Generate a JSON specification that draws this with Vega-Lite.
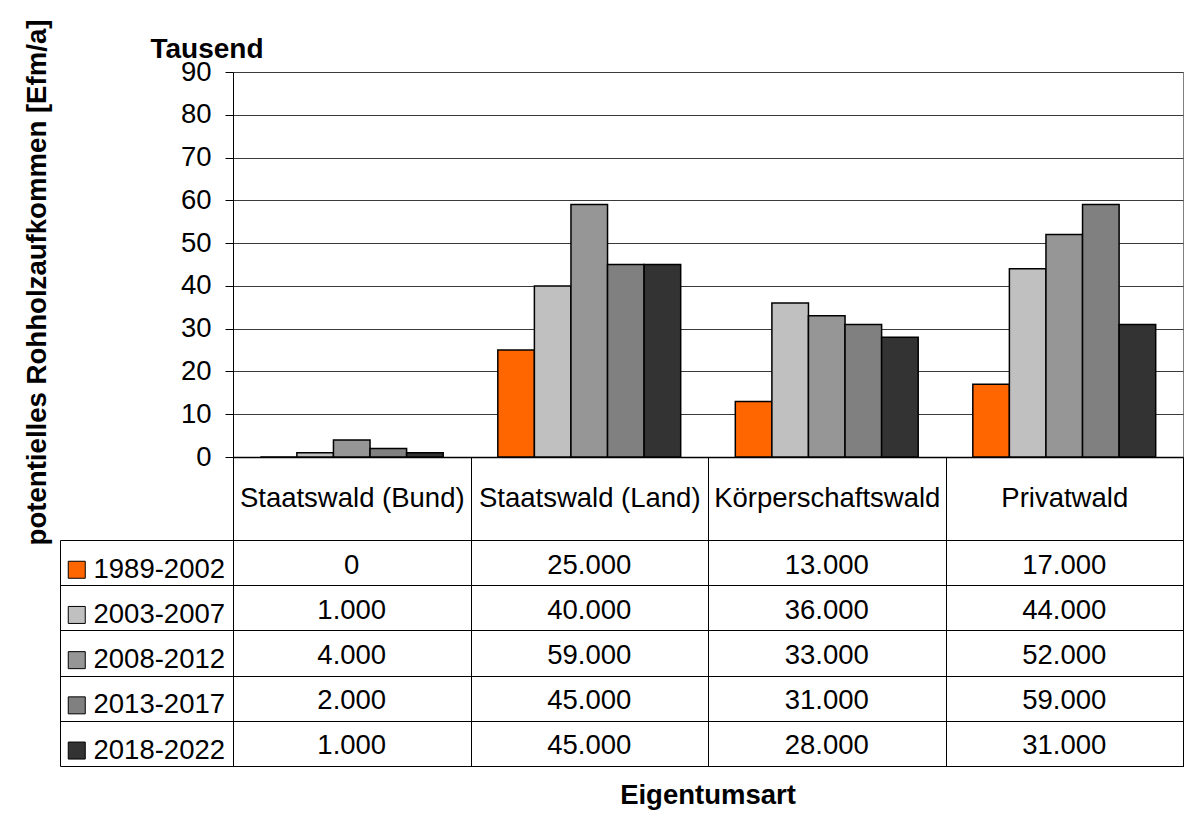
{
  "$schema": "https://vega.github.io/schema/vega-lite/v6.json",
  "padding": {"left": 22, "top": 18, "right": 0, "bottom": 0},
  "background": "white",
  "spacing": 83,
  "bounds": "flush",
  "config": {
    "font": "Liberation Sans",
    "locale": {"number": {"decimal": ",", "thousands": ".", "grouping": [3], "currency": ["", " €"]}},
    "view": {"stroke": null}
  },
  "datasets": {
    "d": [
      {"Eigentumsart": "Staatswald (Bund)", "Zeitraum": "1989-2002", "Wert": 0},
      {"Eigentumsart": "Staatswald (Bund)", "Zeitraum": "2003-2007", "Wert": 1000},
      {"Eigentumsart": "Staatswald (Bund)", "Zeitraum": "2008-2012", "Wert": 4000},
      {"Eigentumsart": "Staatswald (Bund)", "Zeitraum": "2013-2017", "Wert": 2000},
      {"Eigentumsart": "Staatswald (Bund)", "Zeitraum": "2018-2022", "Wert": 1000},
      {"Eigentumsart": "Staatswald (Land)", "Zeitraum": "1989-2002", "Wert": 25000},
      {"Eigentumsart": "Staatswald (Land)", "Zeitraum": "2003-2007", "Wert": 40000},
      {"Eigentumsart": "Staatswald (Land)", "Zeitraum": "2008-2012", "Wert": 59000},
      {"Eigentumsart": "Staatswald (Land)", "Zeitraum": "2013-2017", "Wert": 45000},
      {"Eigentumsart": "Staatswald (Land)", "Zeitraum": "2018-2022", "Wert": 45000},
      {"Eigentumsart": "Körperschaftswald", "Zeitraum": "1989-2002", "Wert": 13000},
      {"Eigentumsart": "Körperschaftswald", "Zeitraum": "2003-2007", "Wert": 36000},
      {"Eigentumsart": "Körperschaftswald", "Zeitraum": "2008-2012", "Wert": 33000},
      {"Eigentumsart": "Körperschaftswald", "Zeitraum": "2013-2017", "Wert": 31000},
      {"Eigentumsart": "Körperschaftswald", "Zeitraum": "2018-2022", "Wert": 28000},
      {"Eigentumsart": "Privatwald", "Zeitraum": "1989-2002", "Wert": 17000},
      {"Eigentumsart": "Privatwald", "Zeitraum": "2003-2007", "Wert": 44000},
      {"Eigentumsart": "Privatwald", "Zeitraum": "2008-2012", "Wert": 52000},
      {"Eigentumsart": "Privatwald", "Zeitraum": "2013-2017", "Wert": 59000},
      {"Eigentumsart": "Privatwald", "Zeitraum": "2018-2022", "Wert": 31000}
    ]
  },
  "vconcat": [
    {
      "width": 950,
      "height": 385,
      "view": {"stroke": "#808080"},
      "data": {"name": "d"},
      "mark": {"type": "bar", "stroke": "black", "strokeWidth": 1.5},
      "encoding": {
        "x": {"field": "Eigentumsart", "type": "nominal", "sort": null, "scale": {"paddingInner": 0.23, "paddingOuter": 0.115}, "axis": {"labels": false, "ticks": false, "title": null, "domainColor": "black", "domainWidth": 1.5}},
        "xOffset": {"field": "Zeitraum", "type": "nominal", "sort": null, "scale": {"paddingInner": 0, "paddingOuter": 0}},
        "y": {"field": "Wert", "type": "quantitative", "scale": {"domain": [0, 90000], "nice": false},
          "axis": {"values": [0, 10000, 20000, 30000, 40000, 50000, 60000, 70000, 80000, 90000], "labelExpr": "format(datum.value/1000, 'd')", "labelFontSize": 27.5, "labelColor": "black", "labelPadding": 14, "tickSize": 8, "tickColor": "black", "domainColor": "black", "grid": true, "gridColor": "#3a3a3a", "gridOpacity": 1,
            "title": "Tausend", "titleFontSize": 28, "titleFontWeight": "bold", "titleColor": "black", "titleAngle": 0, "titleAlign": "left", "titleBaseline": "alphabetic", "titleX": -83, "titleY": -15}},
        "color": {"field": "Zeitraum", "type": "nominal", "sort": null,
          "scale": {"domain": ["1989-2002", "2003-2007", "2008-2012", "2013-2017", "2018-2022"], "range": ["#FF6600", "#C0C0C0", "#969696", "#808080", "#333333"]},
          "legend": {"orient": "none", "legendX": -170, "legendY": 484, "title": null, "symbolType": "square", "symbolSize": 289, "symbolStrokeColor": "black", "symbolStrokeWidth": 1, "symbolOpacity": 1, "labelFontSize": 27.5, "labelColor": "black", "labelOffset": 3, "labelLimit": 0, "rowPadding": 16.2, "padding": 0}}
      }
    },
    {
      "width": 950,
      "height": 226,
      "view": {"stroke": "black"},
      "title": {"text": "Eigentumsart", "orient": "bottom", "anchor": "middle", "frame": "group", "fontSize": 27.5, "fontWeight": "bold", "color": "black", "baseline": "alphabetic", "offset": 37},
      "data": {"name": "d"},
      "mark": {"type": "text", "fontSize": 27.5, "color": "black", "dy": 3},
      "encoding": {
        "x": {"field": "Eigentumsart", "type": "nominal", "sort": null, "scale": {"paddingInner": 0, "paddingOuter": 0},
          "axis": {"orient": "top", "title": null, "tickBand": "extent", "tickSize": 83, "tickColor": "black", "labelFontSize": 27.5, "labelColor": "black", "labelBaseline": "middle", "labelPadding": -41, "labelAngle": 0, "labelLimit": 0, "grid": true, "gridColor": "black", "gridOpacity": 1, "domain": false}},
        "y": {"field": "Zeitraum", "type": "nominal", "sort": null, "scale": {"paddingInner": 0, "paddingOuter": 0},
          "axis": {"labels": false, "tickBand": "extent", "offset": 173, "tickSize": -173, "tickColor": "black", "grid": true, "gridColor": "black", "gridOpacity": 1, "domainColor": "black",
            "title": "potentielles Rohholzaufkommen [Efm/a]", "titleFontSize": 27.6, "titleFontWeight": "bold", "titleColor": "black", "titleAngle": -90, "titleBaseline": "alphabetic", "titleAlign": "center", "titleX": -15, "titleY": -258}},
        "text": {"field": "Wert", "type": "quantitative", "format": ",d"}
      }
    }
  ]
}
